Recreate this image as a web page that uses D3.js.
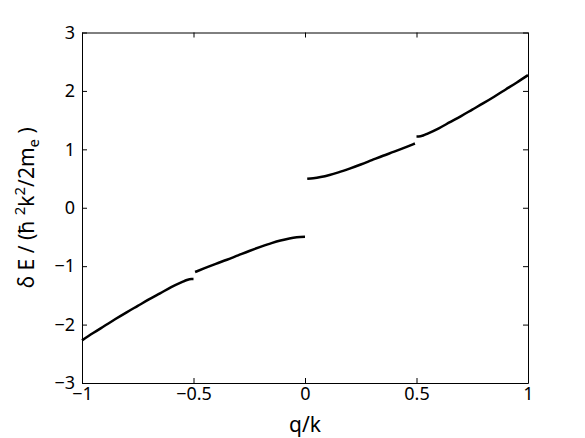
<!DOCTYPE html>
<html>
<head>
<meta charset="utf-8">
<script src="https://cdn.jsdelivr.net/npm/d3@7"></script>
<style>
  body { margin: 0; background: #fff; }
  text { font-family: "Noto Sans", "Open Sans", sans-serif; fill: #000; }
</style>
</head>
<body>
<div id="chart"></div>
<script>
var svgWidth = 585;
var svgHeight = 438;

var margin = { top: 32.5, right: 57, bottom: 55, left: 82 };
var width = svgWidth - margin.left - margin.right;
var height = svgHeight - margin.top - margin.bottom;

// branch data
var seg1X = [-1, -0.95, -0.9, -0.85, -0.8, -0.75, -0.7, -0.65, -0.6, -0.55, -0.53, -0.51, -0.5];
var seg1Y = [-2.27, -2.145, -2.025, -1.905, -1.79, -1.68, -1.57, -1.465, -1.36, -1.27, -1.237, -1.22, -1.22];
var seg2X = [-0.493, -0.45, -0.4, -0.35, -0.3, -0.25, -0.2, -0.15, -0.11, -0.07, -0.037, 0];
var seg2Y = [-1.10, -1.035, -0.96, -0.89, -0.815, -0.74, -0.67, -0.605, -0.56, -0.525, -0.505, -0.495];
var seg3X = [0.01, 0.037, 0.07, 0.11, 0.15, 0.2, 0.25, 0.3, 0.35, 0.4, 0.45, 0.493];
var seg3Y = [0.495, 0.505, 0.525, 0.56, 0.605, 0.67, 0.74, 0.815, 0.89, 0.96, 1.035, 1.10];
var seg4X = [0.5, 0.51, 0.53, 0.55, 0.6, 0.65, 0.7, 0.75, 0.8, 0.85, 0.9, 0.95, 1];
var seg4Y = [1.22, 1.22, 1.237, 1.27, 1.36, 1.465, 1.57, 1.68, 1.79, 1.905, 2.025, 2.145, 2.27];

var xTicks = [-1, -0.5, 0, 0.5, 1];
var yTicks = [-3, -2, -1, 0, 1, 2, 3];

var svg = d3.select("#chart")
  .append("svg")
  .attr("width", svgWidth)
  .attr("height", svgHeight);

var chartGroup = svg.append("g")
  .attr("transform", `translate(${margin.left}, ${margin.top})`);

var xScale = d3.scaleLinear().domain([-1, 1]).range([0, width]);
var yScale = d3.scaleLinear().domain([-3, 3]).range([height, 0]);

var fmt = function(d) { return String(d).replace("-", "\u2212"); };

// axes, ticks pointing in, mirrored on top/right
chartGroup.append("g")
  .attr("transform", `translate(0, ${height})`)
  .call(d3.axisBottom(xScale).tickValues(xTicks).tickSizeInner(-5).tickSizeOuter(0).tickPadding(4).tickFormat(fmt));
chartGroup.append("g")
  .call(d3.axisTop(xScale).tickValues(xTicks).tickSizeInner(-5).tickSizeOuter(0).tickFormat(""));
chartGroup.append("g")
  .call(d3.axisLeft(yScale).tickValues(yTicks).tickSizeInner(-5).tickSizeOuter(0).tickPadding(7).tickFormat(fmt));
chartGroup.append("g")
  .attr("transform", `translate(${width}, 0)`)
  .call(d3.axisRight(yScale).tickValues(yTicks).tickSizeInner(-5).tickSizeOuter(0).tickFormat(""));

chartGroup.selectAll(".domain").attr("stroke", "#000").attr("stroke-width", 1);
chartGroup.selectAll(".tick line").attr("stroke", "#000");
chartGroup.selectAll(".tick text").style("font-size", "18px").attr("fill", "#000");

var line = d3.line()
  .x(d => xScale(d[0]))
  .y(d => yScale(d[1]))
  .curve(d3.curveMonotoneX);

[[seg1X, seg1Y], [seg2X, seg2Y], [seg3X, seg3Y], [seg4X, seg4Y]].forEach(function(s) {
  chartGroup.append("path")
    .datum(d3.zip(s[0], s[1]))
    .attr("d", line)
    .attr("fill", "none")
    .attr("stroke", "#000")
    .attr("stroke-width", 2.5);
});

// axis titles
svg.append("text")
  .attr("x", margin.left + width / 2)
  .attr("y", 432)
  .attr("text-anchor", "middle")
  .style("font-size", "21px")
  .text("q/k");

var yLab = svg.append("text")
  .attr("transform", `translate(34, ${margin.top + height / 2}) rotate(-90)`)
  .attr("text-anchor", "middle")
  .style("font-size", "21px");
yLab.append("tspan").text("\u03b4 E / (\u0127 ");
yLab.append("tspan").attr("dy", -9).style("font-size", "15px").text("2");
yLab.append("tspan").attr("dy", 9).text("k");
yLab.append("tspan").attr("dy", -9).style("font-size", "15px").text("2");
yLab.append("tspan").attr("dy", 9).text("/2m");
yLab.append("tspan").attr("dy", 5).style("font-size", "15px").text("e");
yLab.append("tspan").attr("dy", -5).text(" )");
</script>
</body>
</html>
